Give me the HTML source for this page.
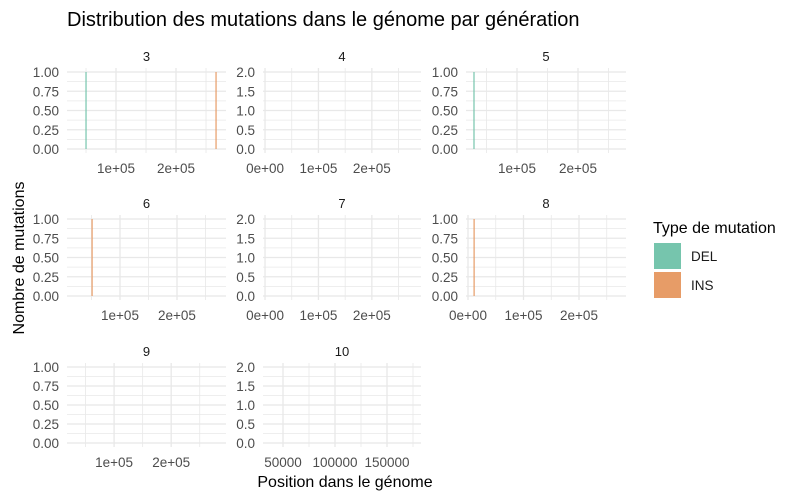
<!DOCTYPE html>
<html><head><meta charset="utf-8">
<style>
body{margin:0;background:#fff;}
svg{display:block;font-family:"Liberation Sans",Arial,sans-serif;}
</style></head>
<body>
<svg id="chart" width="811" height="501" viewBox="0 0 811 501">
<text x="67" y="26" font-size="20" fill="#000">Distribution des mutations dans le génome par génération</text>
<text x="345" y="487" font-size="16" text-anchor="middle" fill="#000">Position dans le génome</text>
<text transform="translate(24,258) rotate(-90)" font-size="16" text-anchor="middle" fill="#000">Nombre de mutations</text>
<g>
<text x="653" y="233" font-size="16" fill="#000">Type de mutation</text>
<rect x="654" y="243" width="27" height="26" fill="#76c5ad"/>
<text x="691" y="261" font-size="13.5" fill="#1a1a1a">DEL</text>
<rect x="654" y="272" width="27" height="26" fill="#e79c67"/>
<text x="691" y="290" font-size="13.5" fill="#1a1a1a">INS</text>
</g>
<g id="panels"></g>
</svg>
<script>
// Data
const generations = ["3","4","5","6","7","8","9","10"];
const delPositions = [[50000],[],[29500],[],[],[],[],[]];
const insPositions = [[266700],[],[],[51000],[],[11000],[],[]];
const countValue = [1,1,1,1,1,1,1,1];
const yMax = [1,2,1,1,2,1,1,2];
const xDomains = [[18300,283300],[-3800,292000],[16400,278700],[7000,286000],[-3800,292000],[-3600,284700],[17500,296000],[30770,182700]];
const xTickStep = [100000,100000,100000,100000,100000,100000,100000,50000];
const xTickLabelsSci = {0:"0e+00",100000:"1e+05",200000:"2e+05"};

const cols=[[67,226],[263,421],[466,626]];
const rows=[[72,149],[219,296],[367,443]];
const NS="http://www.w3.org/2000/svg";
const root=document.getElementById('panels');
function mk(tag,attrs,parent){const e=document.createElementNS(NS,tag);for(const k in attrs)e.setAttribute(k,attrs[k]);parent.appendChild(e);return e;}

generations.forEach((g,i)=>{
  const c=cols[i%3], r=rows[Math.floor(i/3)];
  const pad=4;
  const [d0,d1]=xDomains[i];
  const xs=v=>c[0]+(v-d0)/(d1-d0)*(c[1]-c[0]);
  const ys=v=>r[1]-v/yMax[i]*(r[1]-r[0]);
  const grp=mk('g',{},root);
  
  
  const strip=mk('text',{x:(c[0]+c[1])/2,y:r[0]-11,'font-size':13,'text-anchor':'middle',fill:'#1a1a1a'},grp);
  strip.textContent=g;
  
  
  const ystep=yMax[i]===2?0.5:0.25;
  for(let v=0;v<=yMax[i]+1e-9;v+=ystep/2){
    const major=Math.abs(v/ystep-Math.round(v/ystep))<1e-6;
    const y=ys(v);
    const l=mk('line',{x1:c[0],x2:c[1],y1:y,y2:y,stroke:'#e8e8e8','stroke-width':major?1.3:0.8},grp);
    
    
    if(major){
      const t=mk('text',{x:c[0]-8,y:y+5,'font-size':13.5,'text-anchor':'end',fill:'#4d4d4d'},grp);
      t.textContent=yMax[i]===2?v.toFixed(1):v.toFixed(2);
      
      
    }
  }
  const st=xTickStep[i];
  for(let v=Math.ceil(d0/(st/2))*(st/2);v<=d1;v+=st/2){
    const major=Math.abs(v/st-Math.round(v/st))<1e-6;
    const x=xs(v);
    const l=mk('line',{x1:x,x2:x,y1:r[0]-pad,y2:r[1]+pad,stroke:'#e8e8e8','stroke-width':major?1.3:0.8},grp);
    
    
    if(major){
      const t=mk('text',{x:x,y:r[1]+24,'font-size':13.5,'text-anchor':'middle',fill:'#4d4d4d'},grp);
      t.textContent=st===100000?xTickLabelsSci[Math.round(v)]:String(Math.round(v));
      
      
    }
  }
  delPositions[i].forEach(p=>{
    const b=mk('rect',{x:xs(p)-0.6,y:ys(countValue[i]),width:1.2,height:ys(0)-ys(countValue[i]),fill:'#76c5ad'},grp);
    
    
  });
  insPositions[i].forEach(p=>{
    const b=mk('rect',{x:xs(p)-0.6,y:ys(countValue[i]),width:1.2,height:ys(0)-ys(countValue[i]),fill:'#e79c67'},grp);
    
    
  });
});
</script>
</body></html>
